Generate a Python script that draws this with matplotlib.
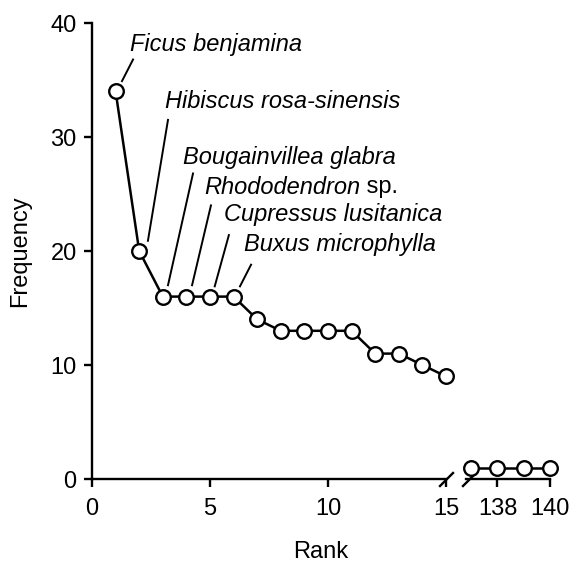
import matplotlib
matplotlib.use("Agg")
from matplotlib import pyplot as plt

plt.rcParams["font.family"] = ["Liberation Sans", "DejaVu Sans"]
plt.rcParams["font.size"] = 17

# 排名 1-15 的频数
ranks = list(range(1, 16))
freq = [34, 20, 16, 16, 16, 16, 14, 13, 13, 13, 13, 11, 11, 10, 9]

# 尾部排名
tail_ranks = [137, 138, 139, 140]
tail_freq = [1, 1, 1, 1]

# 物种标注：名称、文字位置、连线起止
species = ["Ficus benjamina", "Hibiscus rosa-sinensis", "Bougainvillea glabra",
           "Rhododendron", "Cupressus lusitanica", "Buxus microphylla"]
text_pos = [(1.6, 38.1), (3.1, 33.1), (3.85, 28.2), (4.75, 25.6), (5.6, 23.2), (6.45, 20.6)]
line_top = [(1.74, 36.8), (3.22, 31.5), (4.28, 26.8), (5.04, 24.0), (5.8, 21.4), (6.74, 18.8)]
line_end = [(1.27, 34.9), (2.37, 20.9), (3.22, 17.0), (4.24, 17.0), (5.2, 16.9), (6.27, 16.9)]

W, H = 571, 562
fig = plt.figure(figsize=(W / 100, H / 100), dpi=100)
ax = fig.add_axes([92 / W, 1 - 479 / H, (446 - 92) / W, (479 - 23) / H])
ax2 = fig.add_axes([466 / W, 1 - 479 / H, (550 - 466) / W, (479 - 23) / H])

style = dict(color="black", lw=1.8, marker="o", ms=10.5, mfc="white", mec="black",
             mew=1.7, clip_on=False, zorder=3)
ax.plot(ranks, freq, **style)
ax2.plot(tail_ranks, tail_freq, **style)

for a in (ax, ax2):
    a.set_ylim(0, 40)
    for s in ("top", "right"):
        a.spines[s].set_visible(False)
    for s in ("left", "bottom"):
        a.spines[s].set_linewidth(1.7)
    a.tick_params(width=1.7, length=6, direction="out", labelsize=17, pad=5)
    a.tick_params(axis="x", pad=8)

ax.set_xlim(0, 15)
ax.set_xticks([0, 5, 10, 15])
ax.set_yticks([0, 10, 20, 30, 40])
ax.set_ylabel("Frequency", fontsize=17, labelpad=14)

ax2.set_xlim(136.8, 140)
ax2.set_xticks([138, 140])
ax2.spines["left"].set_visible(False)
ax2.set_yticks([])
ax2.patch.set_alpha(0)

# 断轴斜线
kw = dict(color="black", lw=1.7, clip_on=False, transform=fig.transFigure)
for x0 in (440, 463):
    ax.plot([x0 / W, (x0 + 13) / W], [1 - 486 / H, 1 - 473 / H], **kw)

fig.text(321 / W, 1 - 552 / H, "Rank", ha="center", va="center", fontsize=17)

for name, tp, lt, le in zip(species, text_pos, line_top, line_end):
    t = ax.text(tp[0], tp[1], name, fontsize=17, style="italic", va="center")
    if name == "Rhododendron":
        ax.annotate(" sp.", xy=(1, 0.5), xycoords=t, va="center", fontsize=17)
    ax.plot([lt[0], le[0]], [lt[1], le[1]], color="black", lw=1.4, clip_on=False)

fig.savefig("out.png", dpi=100)
